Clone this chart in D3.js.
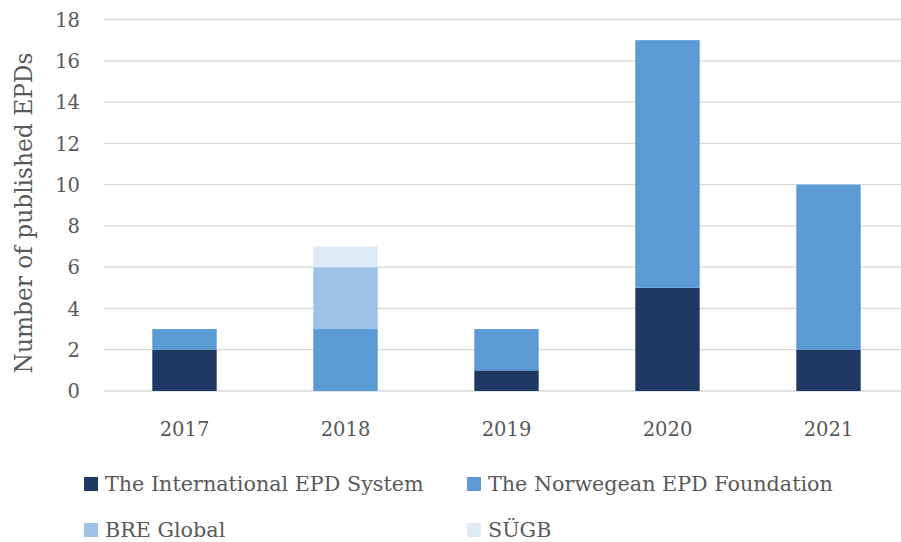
<!DOCTYPE html>
<html>
<head>
<meta charset="utf-8">
<script src="https://cdn.jsdelivr.net/npm/d3@7"></script>
<style>
  body { margin: 0; background: #fff; }
  svg text { font-family: "DejaVu Serif", "Liberation Serif", serif; fill: #595959; }
</style>
</head>
<body>
<svg id="chart"></svg>
<script>
// data
var years = ["2017", "2018", "2019", "2020", "2021"];
var seriesNames = ["The International EPD System", "The Norwegean EPD Foundation", "BRE Global", "SÜGB"];
var international = [2, 0, 1, 5, 2];
var norwegian = [1, 3, 2, 12, 8];
var bre = [0, 3, 0, 0, 0];
var sugb = [0, 1, 0, 0, 0];
var yTicks = [0, 2, 4, 6, 8, 10, 12, 14, 16, 18];
var colors = ["#203864", "#5b9bd5", "#9dc3e6", "#deebf7"];

var width = 901, height = 542;
var svg = d3.select('#chart').attr('width', width).attr('height', height);

var x = d3.scaleBand().domain(years).range([104, 909]).paddingInner(0.6).paddingOuter(0.3);
var y = d3.scaleLinear().domain([0, 18]).range([391, 19.5]);

// gridlines
svg.append('g').selectAll('line')
  .data(yTicks).enter().append('line')
  .attr('x1', 104).attr('x2', 909)
  .attr('y1', d => y(d)).attr('y2', d => y(d))
  .attr('stroke', '#d9d9d9').attr('stroke-width', 1.3);

// y axis labels
var yAxis = svg.append('g').attr('transform', 'translate(80,0)')
  .call(d3.axisLeft(y).tickValues(yTicks).tickSize(0).tickPadding(0));
yAxis.select('.domain').remove();
yAxis.selectAll('text').style('font-size', '19.5px').attr('dy', '0.35em')
  .style('font-family', '"DejaVu Serif", serif').attr('fill', '#595959');

// x axis labels
var xAxis = svg.append('g').attr('transform', 'translate(0,391)')
  .call(d3.axisBottom(x).tickSize(0).tickPadding(0));
xAxis.select('.domain').remove();
xAxis.selectAll('text').attr('y', 45).attr('dy', 0).style('font-size', '19.5px')
  .style('font-family', '"DejaVu Serif", serif').attr('fill', '#595959');

// stack
var table = years.map((yr, i) => ({ year: yr, s0: international[i], s1: norwegian[i], s2: bre[i], s3: sugb[i] }));
var stack = d3.stack().keys(["s0", "s1", "s2", "s3"])(table);

svg.append('g').selectAll('g')
  .data(stack).enter().append('g')
  .attr('fill', (d, i) => colors[i])
  .selectAll('rect')
  .data(d => d.filter(p => p[1] > p[0])).enter().append('rect')
  .attr('x', d => x(d.data.year))
  .attr('width', x.bandwidth())
  .attr('y', d => y(d[1]))
  .attr('height', d => y(d[0]) - y(d[1]));

// y title
svg.append('text')
  .attr('transform', 'translate(32,' + 213 + ')rotate(-90)')
  .attr('text-anchor', 'middle')
  .style('font-size', '23.3px')
  .text('Number of published EPDs');

// legend
var legendPos = [[84, 477], [467, 477], [84, 523], [467, 523]];
var leg = svg.append('g').selectAll('g')
  .data(seriesNames).enter().append('g')
  .attr('transform', (d, i) => 'translate(' + legendPos[i][0] + ',' + legendPos[i][1] + ')');
leg.append('rect').attr('width', 14).attr('height', 14).attr('fill', (d, i) => colors[i]);
leg.append('text').attr('x', 21).attr('y', 13.5).style('font-size', '20.7px').text(d => d);
</script>
</body>
</html>
